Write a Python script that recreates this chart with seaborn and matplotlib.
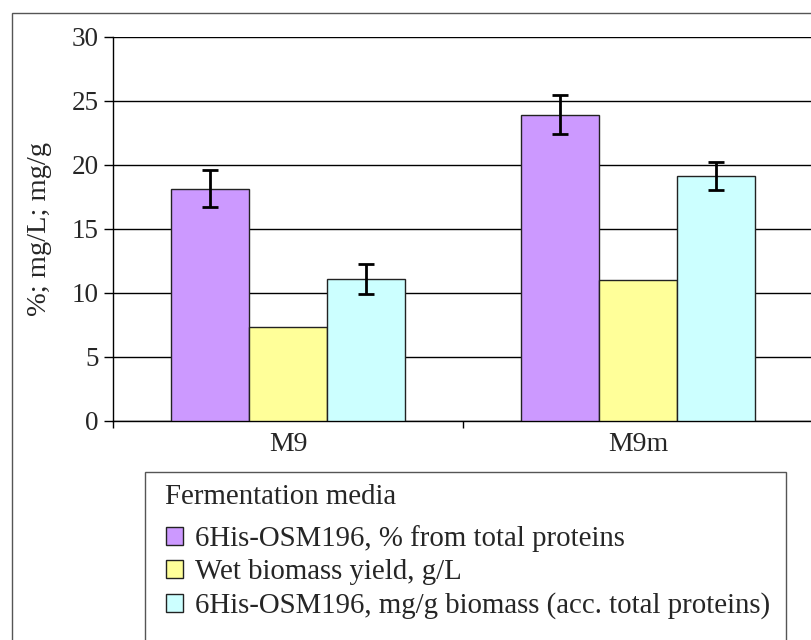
import matplotlib
matplotlib.use("Agg")
import matplotlib.pyplot as plt
from matplotlib.patches import Rectangle, Patch
import pandas as pd
import seaborn as sns

# values
media = ["M9", "M9m"]
series = ["6His-OSM196, % from total proteins",
          "Wet biomass yield, g/L",
          "6His-OSM196, mg/g biomass (acc. total proteins)"]
pct_total = [18.1, 23.9]
biomass_yield = [7.3, 11.0]
mg_per_g = [11.05, 19.1]
pct_total_err = [1.45, 1.55]
mg_per_g_err = [1.15, 1.13]
colors = ["#CC99FF", "#FFFF99", "#CCFFFF"]

sns.set_style("white")
plt.rcParams["font.family"] = ["Liberation Serif", "DejaVu Serif"]

df = pd.DataFrame({
    "media": media * 3,
    "series": [series[0]] * 2 + [series[1]] * 2 + [series[2]] * 2,
    "value": pct_total + biomass_yield + mg_per_g,
})

W, H = 812, 640
fig = plt.figure(figsize=(W / 100, H / 100), dpi=100)
ax = fig.add_axes([113 / W, 1 - 420.5 / H, 700 / W, 384 / H])

sns.barplot(data=df, x="media", y="value", hue="series", hue_order=series,
            order=media, palette=colors, saturation=1, width=0.67,
            edgecolor="#222222", linewidth=1, errorbar=None, legend=False,
            ax=ax, zorder=3)

# error bars on the first and third series
errs = {0: pct_total_err, 2: mg_per_g_err}
for i, cont in enumerate(ax.containers):
    if i not in errs:
        continue
    xs = [b.get_x() + b.get_width() / 2 for b in cont]
    ys = [b.get_height() for b in cont]
    ax.errorbar(xs, ys, yerr=errs[i], fmt="none", ecolor="black",
                elinewidth=2, capsize=6, capthick=2, zorder=4)

ax.set_ylim(0, 30)
ax.set_xlim(-0.5, 1.5)
ax.set_yticks(range(0, 31, 5))
ax.yaxis.grid(True, color="black", linewidth=1)
ax.set_axisbelow(True)
for s in ["top", "right"]:
    ax.spines[s].set_visible(False)
for s in ["left", "bottom"]:
    ax.spines[s].set_color("black")
    ax.spines[s].set_linewidth(1)

ax.tick_params(axis="y", which="major", length=6.5, width=1, color="black",
               direction="out", pad=4, labelsize=19.5, left=True)
ax.tick_params(axis="x", which="major", length=0, pad=8, labelsize=20)
ax.set_xticks([-0.5, 0.5, 1.5], minor=True)
ax.tick_params(axis="x", which="minor", length=5, width=1, color="black",
               direction="out", bottom=True)
ax.set_xlabel("")
ax.set_ylabel("%; mg/L; mg/g", fontsize=20.5)
ax.yaxis.label.set_va("center")
ax.yaxis.set_label_coords((40 - 113) / 700, 0.5)

# outer frame and legend box (both run off the cropped edges)
fig.add_artist(Rectangle((12 / W, -0.1), 1.0, 1.1 - 13 / H,
                         transform=fig.transFigure, fill=False,
                         edgecolor="#555555", linewidth=1))
fig.add_artist(Rectangle((145 / W, -0.1), (786 - 145) / W, 0.1 + 1 - 472 / H,
                         transform=fig.transFigure, fill=False,
                         edgecolor="#555555", linewidth=1))

fig.text(165 / W, 1 - 497 / H, "Fermentation media", fontsize=20.8,
         ha="left", va="center")
handles = [Patch(facecolor=c, edgecolor="#222222", linewidth=1) for c in colors]
fig.legend(handles, series, loc="upper left",
           bbox_to_anchor=(166 / W, 1 - 525 / H),
           bbox_transform=fig.transFigure, frameon=False,
           fontsize=20.8, handlelength=0.6, handleheight=0.6,
           handletextpad=0.4, labelspacing=0.25,
           borderpad=0, borderaxespad=0)

fig.savefig("out.png", dpi=100)
